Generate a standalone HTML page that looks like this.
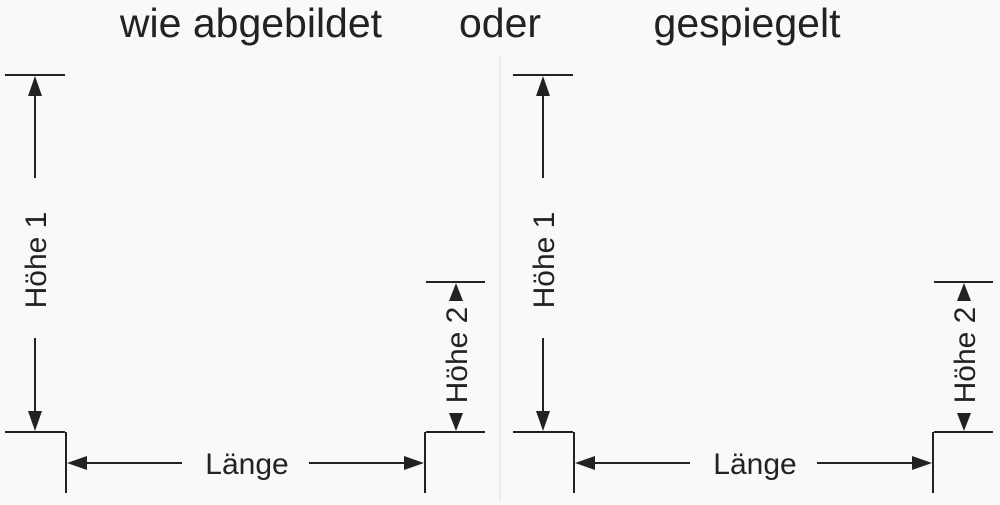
<!DOCTYPE html>
<html><head><style>body{margin:0;background:#fafafa}</style></head><body>
<svg width="1000" height="500" viewBox="0 0 1000 500" xmlns="http://www.w3.org/2000/svg" font-family="Liberation Sans, sans-serif" fill="#222">
<rect width="1000" height="500" fill="#f9f9f9"/>
<line x1="500" y1="55" x2="500" y2="500" stroke="#ddd" stroke-width="1"/>
<text x="251" y="37" font-size="41" text-anchor="middle">wie abgebildet</text>
<text x="500" y="37" font-size="41" text-anchor="middle">oder</text>
<text x="747" y="37" font-size="41" text-anchor="middle">gespiegelt</text>
<defs>
<g id="d" stroke="#222" stroke-width="2" fill="none">
<line x1="5" y1="75" x2="65" y2="75"/>
<line x1="35" y1="90" x2="35" y2="178"/>
<line x1="35" y1="338" x2="35" y2="418"/>
<line x1="5" y1="432" x2="65" y2="432"/>
<line x1="66" y1="432" x2="66" y2="493"/>
<line x1="426" y1="282" x2="485" y2="282"/>
<line x1="426" y1="432" x2="485" y2="432"/>
<line x1="425" y1="432" x2="425" y2="493"/>
<line x1="82" y1="463" x2="182" y2="463"/>
<line x1="309" y1="463" x2="408" y2="463"/>
</g>
</defs>
<g id="L">
<use href="#d"/>
<polygon points="35,76 28,96 42,96"/>
<polygon points="35,431 28,411 42,411"/>
<polygon points="456,283 449,301 463,301"/>
<polygon points="456,431 449,413 463,413"/>
<polygon points="67,463 87,456 87,470"/>
<polygon points="424,463 404,456 404,470"/>
<text x="247" y="474" font-size="30" text-anchor="middle">Länge</text>
<text transform="translate(46,260) rotate(-90)" font-size="30" text-anchor="middle">Höhe 1</text>
<text transform="translate(467,355) rotate(-90)" font-size="30" text-anchor="middle">Höhe 2</text>
</g>
<use href="#L" x="508"/>
</svg>
</body></html>
